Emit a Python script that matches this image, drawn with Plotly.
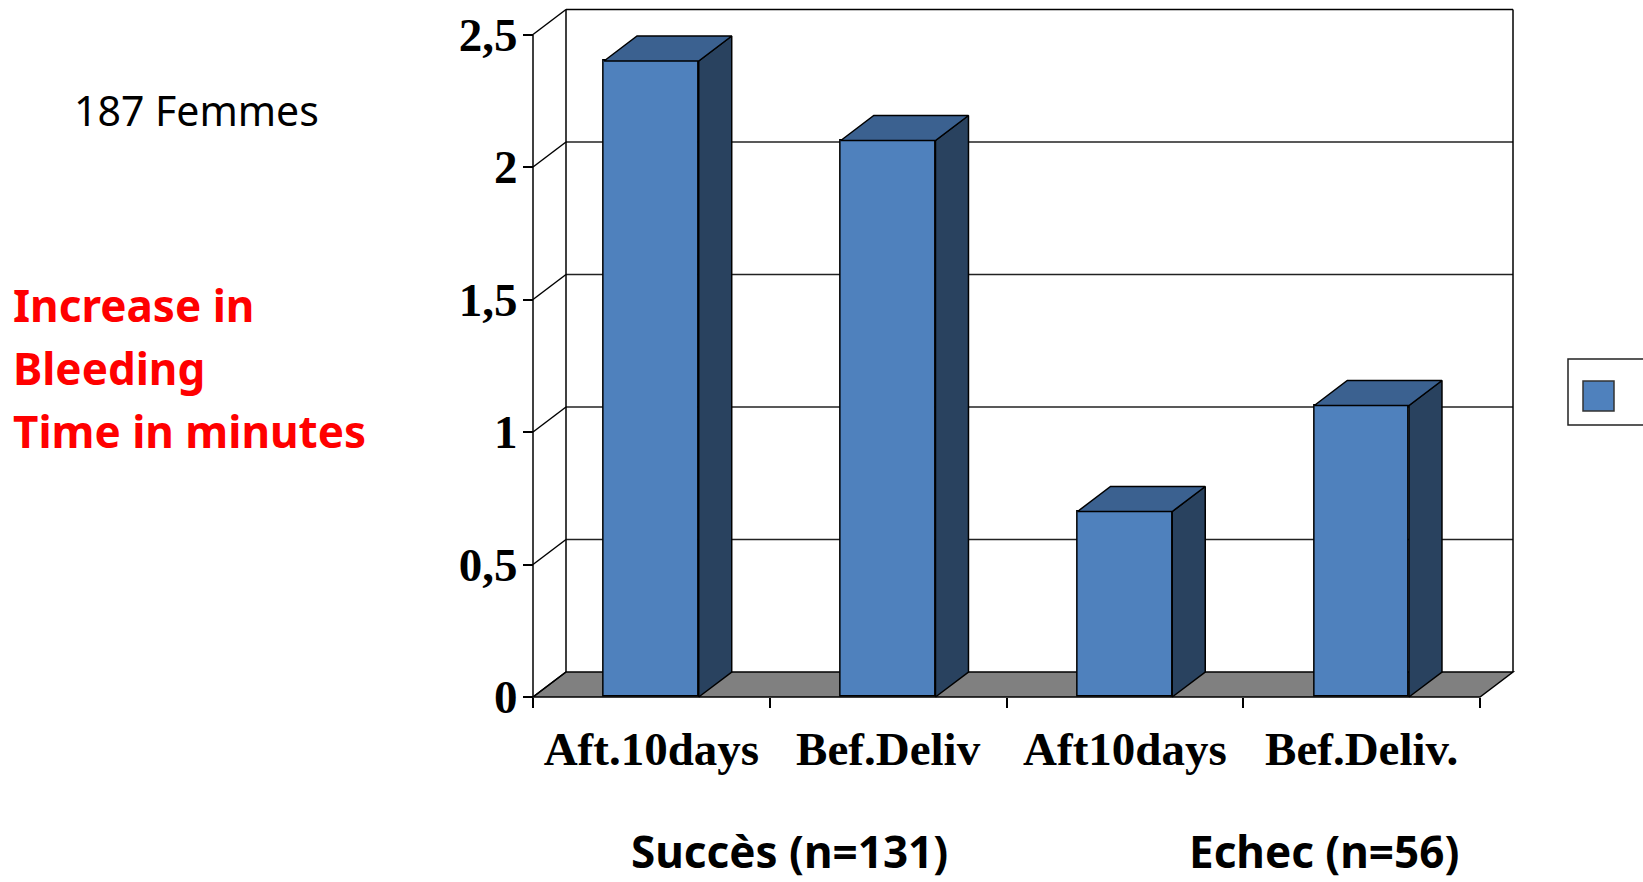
import plotly.graph_objects as go

# ---- data -------------------------------------------------------------
categories = ["Aft.10days", "Bef.Deliv", "Aft10days", "Bef.Deliv."]
bleeding_increase = [2.4, 2.1, 0.7, 1.1]          # minutes
y_tick_values = [0, 0.5, 1, 1.5, 2, 2.5]
y_tick_labels = ["0", "0,5", "1", "1,5", "2", "2,5"]
group_labels = ["Succès (n=131)", "Echec (n=56)"]
sample_label = "187 Femmes"
y_title_lines = ["Increase in", "Bleeding", "Time in minutes"]

# ---- page / projection geometry ----------------------------------------
W, H = 1643, 882
FRONT_LEFT_PX = 533      # pixel of the front-left corner (x = -0.5)
PX_PER_X = 236.75        # pixels per category
BASE_PX = 697            # pixel row of value 0 on the front plane
PX_PER_Y = 265           # pixels per minute
DEPTH_X_PX, DEPTH_Y_PX = 33, 25

dx = DEPTH_X_PX / PX_PER_X
dy = DEPTH_Y_PX / PX_PER_Y
bar_w = 0.4
n = len(categories)
x_left, x_right = -0.5, n - 0.5
y_top = max(y_tick_values)

x_range = [x_left - 0.12, x_right + dx + 0.06]
y_range = [-0.04, y_top + dy + 0.015]


def px_x(v):
    return FRONT_LEFT_PX + (v - x_left) * PX_PER_X


def px_y(v):
    return BASE_PX - v * PX_PER_Y


x_domain = [px_x(x_range[0]) / W, px_x(x_range[1]) / W]
y_domain = [1 - px_y(y_range[0]) / H, min(1.0, 1 - px_y(y_range[1]) / H)]

FRONT = "#4F81BD"
TOP = "#3B6190"
SIDE = "#29425F"
FLOOR = "#808080"
EDGE = "black"

fig = go.Figure()

# front faces of the bars
fig.add_trace(go.Bar(
    x=list(range(n)), y=bleeding_increase, width=bar_w,
    marker=dict(color=FRONT, line=dict(color=EDGE, width=1.5)),
    showlegend=False, hoverinfo="x+y",
))

# side and top faces, projected back by the depth offset
side_x, side_y, top_x, top_y = [], [], [], []
for i, v in enumerate(bleeding_increase):
    l, r = i - bar_w / 2, i + bar_w / 2
    side_x += [r, r + dx, r + dx, r, r, None]
    side_y += [0, dy, v + dy, v, 0, None]
    top_x += [l, r, r + dx, l + dx, l, None]
    top_y += [v, v, v + dy, v + dy, v, None]

fig.add_trace(go.Scatter(x=side_x, y=side_y, mode="lines", fill="toself",
                         fillcolor=SIDE, line=dict(color=EDGE, width=1.5),
                         showlegend=False, hoverinfo="skip"))
fig.add_trace(go.Scatter(x=top_x, y=top_y, mode="lines", fill="toself",
                         fillcolor=TOP, line=dict(color=EDGE, width=1.5),
                         showlegend=False, hoverinfo="skip"))

# ---- walls and floor -----------------------------------------------------
shapes = []
line = dict(color=EDGE, width=1.5)
grid = dict(color="#222222", width=1.3)

# floor
shapes.append(dict(
    type="path", xref="x", yref="y", layer="below",
    path=f"M {x_left},0 L {x_right},0 L {x_right + dx},{dy} L {x_left + dx},{dy} Z",
    fillcolor=FLOOR, line=line,
))
# back wall gridlines and left-wall diagonals
for v in y_tick_values:
    if v > 0:
        shapes.append(dict(type="line", xref="x", yref="y", layer="below",
                           x0=x_left + dx, x1=x_right + dx, y0=v + dy, y1=v + dy,
                           line=grid if v < y_top else line))
    shapes.append(dict(type="line", xref="x", yref="y", layer="below",
                       x0=x_left, x1=x_left + dx, y0=v, y1=v + dy, line=line))
# wall verticals
for xv, y0, y1 in [(x_left, 0, y_top), (x_left + dx, dy, y_top + dy),
                   (x_right + dx, dy, y_top + dy)]:
    shapes.append(dict(type="line", xref="x", yref="y", layer="below",
                       x0=xv, x1=xv, y0=y0, y1=y1, line=line))

# legend box
shapes.append(dict(type="rect", xref="paper", yref="paper",
                   x0=1568 / W, x1=1660 / W, y0=1 - 425 / H, y1=1 - 359 / H,
                   line=dict(color="#222222", width=1.5), fillcolor="white"))
shapes.append(dict(type="rect", xref="paper", yref="paper",
                   x0=1583 / W, x1=1614 / W, y0=1 - 411 / H, y1=1 - 381 / H,
                   line=dict(color="#333333", width=1.5), fillcolor=FRONT))

# ---- text ------------------------------------------------------------------
annotations = [
    dict(text=sample_label, x=72 / W, y=1 - 110 / H, xref="paper", yref="paper",
         xanchor="left", yanchor="middle", showarrow=False,
         font=dict(family="Noto Sans", size=41, color="black")),
]
for k, (txt, cy) in enumerate(zip(y_title_lines, [305, 368, 431])):
    annotations.append(dict(
        text=txt, x=11 / W, y=1 - cy / H, xref="paper", yref="paper",
        xanchor="left", yanchor="middle", showarrow=False,
        font=dict(family="Noto Sans", size=44, color="#FF0000", weight="bold")))
for txt, lx in zip(group_labels, [629, 1187]):
    annotations.append(dict(
        text=txt, x=lx / W, y=1 - 851 / H, xref="paper", yref="paper",
        xanchor="left", yanchor="middle", showarrow=False,
        font=dict(family="Noto Sans", size=44, color="black", weight="bold")))

tick_font = dict(family="Liberation Serif", size=47, color="black", weight="bold")

fig.update_layout(
    width=W, height=H, margin=dict(l=0, r=0, t=0, b=0, autoexpand=False),
    paper_bgcolor="white", plot_bgcolor="rgba(0,0,0,0)",
    showlegend=False, bargap=0,
    shapes=shapes, annotations=annotations,
    xaxis=dict(
        range=x_range, domain=x_domain, anchor="free", position=1 - BASE_PX / H,
        automargin=False,
        tickvals=list(range(n)), ticktext=categories, ticks="",
        showgrid=False, zeroline=False, showline=False,
        tickfont=tick_font, ticklabelstandoff=20,
        minor=dict(tickvals=[i - 0.5 for i in range(n + 1)], ticks="outside",
                   ticklen=10, tickwidth=1.5, tickcolor=EDGE, showgrid=False),
    ),
    yaxis=dict(
        range=y_range, domain=y_domain, anchor="free", position=FRONT_LEFT_PX / W,
        automargin=False,
        tickvals=y_tick_values, ticktext=y_tick_labels,
        ticks="outside", ticklen=10, tickwidth=1.5, tickcolor=EDGE,
        showgrid=False, zeroline=False, showline=False,
        tickfont=tick_font, ticklabelstandoff=-4,
    ),
)

fig.write_html("out.html")
